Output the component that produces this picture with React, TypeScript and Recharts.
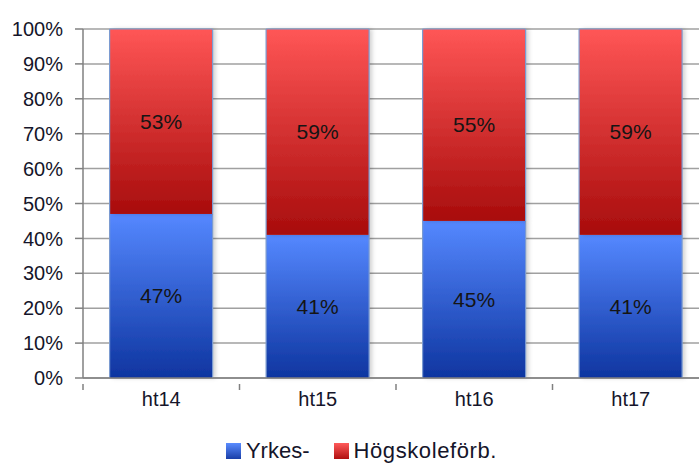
import React from 'react';
import { BarChart, Bar, XAxis, YAxis, CartesianGrid, Legend, LabelList } from 'recharts';

const terms = ['ht14', 'ht15', 'ht16', 'ht17'];
const yrkes = [47, 41, 45, 41];
const hogskole = [53, 59, 55, 59];
const yTicks = [0, 10, 20, 30, 40, 50, 60, 70, 80, 90, 100];

const data = terms.map((term, i) => ({ term, yrkes: yrkes[i], hogskole: hogskole[i] }));

const FONT = '"Liberation Sans", Arial, sans-serif';
const TEXT = '#15152a';

const SegmentShape = (props: any) => {
  const { x, y, width, height, fill, top } = props;
  if (!height) return null;
  return (
    <g>
      <rect x={x} y={y} width={width} height={height} fill={fill} filter="url(#shadow)" />
      <line x1={x} y1={y} x2={x} y2={y + height} stroke="#7b9bd1" strokeWidth={1.2} />
      <line x1={x + width} y1={y} x2={x + width} y2={y + height} stroke="#7b9bd1" strokeWidth={1.2} />
      {top && <line x1={x} y1={y} x2={x + width} y2={y} stroke="#7b9bd1" strokeWidth={1.2} />}
    </g>
  );
};

const CategoryTick = (props: any) => {
  const { x, y, payload } = props;
  const half = payload && payload.offset ? payload.offset : 78;
  return (
    <g>
      <line x1={x + half} y1={y - 2} x2={x + half} y2={y + 4} stroke="#808080" strokeWidth={1.5} />
      {payload.index === 0 && (
        <line x1={x - half} y1={y - 2} x2={x - half} y2={y + 4} stroke="#808080" strokeWidth={1.5} />
      )}
      <text x={x} y={y + 20} textAnchor="middle" fontSize={20} fontFamily={FONT} fill={TEXT}>
        {payload.value}
      </text>
    </g>
  );
};

const LegendContent = () => (
  <div style={{ display: 'flex', justifyContent: 'center', fontFamily: FONT, fontSize: 22, lineHeight: '24px', color: TEXT, paddingLeft: 14 }}>
    <span style={{ display: 'flex', alignItems: 'center', marginRight: 24 }}>
      <span style={{ width: 15, height: 16, marginRight: 5, background: 'linear-gradient(#5a8cff, #1a3fa8)' }} />
      Yrkes-
    </span>
    <span style={{ display: 'flex', alignItems: 'center', letterSpacing: 0.6 }}>
      <span style={{ width: 15, height: 16, marginRight: 5, background: 'linear-gradient(#ff5a5a, #b01010)' }} />
      Högskoleförb.
    </span>
  </div>
);

export default function App() {
  return (
    <div style={{ position: 'fixed', left: 0, top: 0, width: 699, height: 463, overflow: 'hidden', background: '#fff' }}>
      <BarChart
        width={720}
        height={463}
        data={data}
        margin={{ top: 29, right: 11, bottom: 0, left: 0 }}
        barCategoryGap="17%"
      >
        <defs>
          <linearGradient id="gradBlue" x1="0" y1="0" x2="0" y2="1">
            <stop offset="0%" stopColor="#5588ff" />
            <stop offset="100%" stopColor="#0e35a0" />
          </linearGradient>
          <linearGradient id="gradRed" x1="0" y1="0" x2="0" y2="1">
            <stop offset="0%" stopColor="#ff5656" />
            <stop offset="100%" stopColor="#a80c0c" />
          </linearGradient>
          <filter id="shadow" x="-10%" y="-5%" width="130%" height="110%">
            <feDropShadow dx="3" dy="0" stdDeviation="2" floodColor="#000" floodOpacity="0.18" />
          </filter>
        </defs>
        <CartesianGrid vertical={false} stroke="#a0a0a0" strokeWidth={1.5} />
        <XAxis
          dataKey="term"
          height={61}
          axisLine={{ stroke: '#808080', strokeWidth: 1.5 }}
          tickLine={false}
          tick={<CategoryTick />}
          interval={0}
        />
        <YAxis
          domain={[0, 100]}
          ticks={yTicks}
          width={83}
          tickSize={8}
          tickMargin={12}
          axisLine={{ stroke: '#808080', strokeWidth: 1.5 }}
          tickLine={{ stroke: '#808080', strokeWidth: 1.5 }}
          tickFormatter={(v) => `${v}%`}
          tick={{ fontSize: 20, fontFamily: FONT, fill: TEXT }}
          interval={0}
        />
        <Legend verticalAlign="bottom" height={24} content={<LegendContent />} />
        <Bar dataKey="yrkes" stackId="a" fill="url(#gradBlue)" shape={<SegmentShape />} isAnimationActive={false}>
          <LabelList dataKey="yrkes" position="center" formatter={(v: any) => `${v}%`} fontSize={21} fontFamily={FONT} fill="#151515" />
        </Bar>
        <Bar dataKey="hogskole" stackId="a" fill="url(#gradRed)" shape={<SegmentShape top />} isAnimationActive={false}>
          <LabelList dataKey="hogskole" position="center" formatter={(v: any) => `${v}%`} fontSize={21} fontFamily={FONT} fill="#151515" />
        </Bar>
      </BarChart>
    </div>
  );
}
